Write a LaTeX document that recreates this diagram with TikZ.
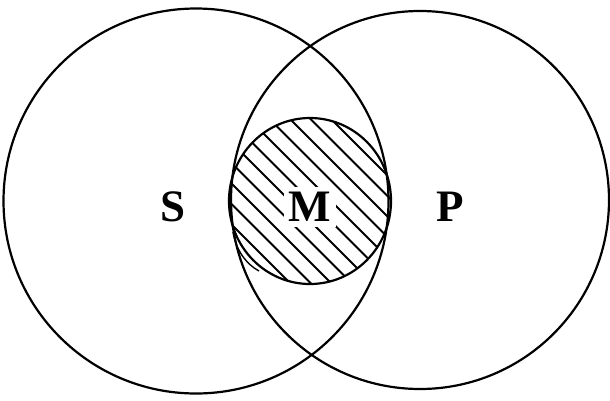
\documentclass[tikz,border=0pt]{standalone}
\usepackage{fontspec}
\setmainfont{Liberation Serif}
\begin{document}
\begin{tikzpicture}[x=1pt,y=-1pt,
  ring/.style={draw=black,line width=2.2pt},
  hatch/.style={draw=black,line width=1.8pt},
  lbl/.style={font=\bfseries\fontsize{45}{45}\selectfont,inner sep=2pt}]
\useasboundingbox (0,0) rectangle (610,400);
% hatching inside M
\begin{scope}
  \clip (310,201) ellipse (81 and 83);
  \foreach \c in {-225,-204.5,...,230}
    \draw[hatch] (310+\c-130,71) -- (310+\c+130,331);
\end{scope}
\draw[ring] (196,201) circle (192.5);
\draw[ring] (420,200) circle (189);
\draw[ring] (310,201) ellipse (81 and 83);
\draw[line width=1.4pt] (233,232) .. controls (236,250) and (246,264) .. (259,271);
\node[lbl] (S) at (173,207) {S};
\node[lbl,fill=white,inner sep=5pt] (M) at (310,207) {M};
\node[lbl] (P) at (450,207) {P};
\end{tikzpicture}
\end{document}
